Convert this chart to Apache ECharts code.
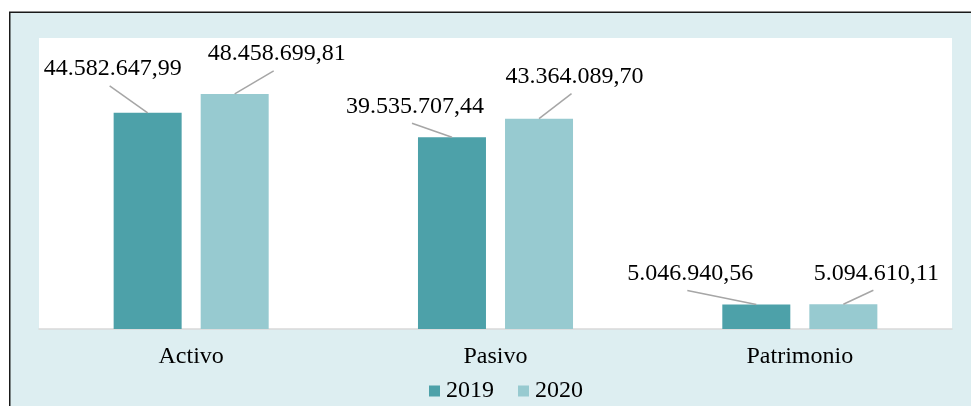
<!DOCTYPE html>
<html>
<head>
<meta charset="utf-8">
<script src="https://cdn.jsdelivr.net/npm/echarts@6/dist/echarts.min.js"></script>
<style>
  html, body { margin: 0; padding: 0; background: #ffffff; }
  #chart { width: 971px; height: 406px; }
</style>
</head>
<body>
<div id="chart"></div>
<script>
// Balance sheet totals per year
const categories = ['Activo', 'Pasivo', 'Patrimonio'];
const years = ['2019', '2020'];
const values2019 = [44582647.99, 39535707.44, 5046940.56];
const values2020 = [48458699.81, 43364089.70, 5094610.11];

// Where each value label sits relative to the top centre of its bar [dx, dy]
const labelShift = [
  [[-35, -44], [-37, -31], [-66, -31]],
  [[42, -40], [35.5, -42], [33, -31]]
];

const serif = "'Times New Roman', 'Liberation Serif', serif";
const colors = ['#4DA1A9', '#97CAD0'];
const BAR_W = 68;
const BAR_GAP = 0.28;
// horizontal distance from category centre to each bar's centre
const barOffset = [-(BAR_W * (1 + BAR_GAP)) / 2, (BAR_W * (1 + BAR_GAP)) / 2];

// 44582647.99 -> "44.582.647,99"
function formatEs(v) {
  const parts = v.toFixed(2).split('.');
  return parts[0].replace(/\B(?=(\d{3})+(?!\d))/g, '.') + ',' + parts[1];
}

function barSeries(name, values, idx) {
  return {
    name: name,
    type: 'bar',
    data: values,
    barWidth: BAR_W,
    barGap: (BAR_GAP * 100) + '%',
    itemStyle: { color: colors[idx] },
    label: {
      show: true,
      position: 'top',
      formatter: p => formatEs(p.value),
      color: '#000',
      fontSize: 24,
      fontFamily: serif
    },
    labelLayout: function (p) {
      const off = labelShift[idx][p.dataIndex];
      const cx = p.rect.x + p.rect.width / 2;
      return {
        x: cx + off[0],
        y: p.rect.y + off[1],
        align: 'center',
        verticalAlign: 'middle'
      };
    }
  };
}

// Leader line from the top of each bar to its value label
function leaderSeries(values, idx) {
  return {
    name: 'leader ' + years[idx],
    type: 'custom',
    silent: true,
    z: 3,
    data: values.map((v, i) => [i, v]),
    renderItem: function (params, api) {
      const i = api.value(0);
      const pt = api.coord([i, api.value(1)]);
      const cx = pt[0] + barOffset[idx];
      const top = pt[1];
      const off = labelShift[idx][i];
      return {
        type: 'line',
        shape: { x1: cx, y1: top, x2: cx + off[0] - 3, y2: top + off[1] + 17 },
        style: { stroke: '#A6A6A6', lineWidth: 1.5 }
      };
    }
  };
}

const chart = echarts.init(document.getElementById('chart'), null, { renderer: 'canvas' });
chart.setOption({
  animation: false,
  backgroundColor: '#ffffff',
  color: colors,
  graphic: [{
    type: 'rect',
    z: -100,
    shape: { x: 9.75, y: 12.25, width: 1000, height: 450 },
    style: { fill: '#DDEEF1', stroke: '#1a1a1a', lineWidth: 1.5 }
  }],
  grid: {
    left: 39, right: 19, top: 38, bottom: 77,
    show: true, backgroundColor: '#ffffff', borderWidth: 0
  },
  legend: {
    data: years,
    left: 429,
    top: 379,
    padding: 0,
    icon: 'rect',
    itemWidth: 11,
    itemHeight: 11,
    itemGap: 24,
    textStyle: { color: '#000', fontSize: 24, fontFamily: serif, padding: [0, 0, 0, 1] }
  },
  xAxis: {
    type: 'category',
    data: categories,
    axisTick: { show: false },
    axisLine: { lineStyle: { color: '#D9D9D9', width: 1.5 } },
    axisLabel: { color: '#000', fontSize: 24, fontFamily: serif, margin: 16 }
  },
  yAxis: {
    type: 'value',
    min: 0,
    max: 60000000,
    show: false,
    splitLine: { show: false }
  },
  series: [
    barSeries(years[0], values2019, 0),
    barSeries(years[1], values2020, 1),
    leaderSeries(values2019, 0),
    leaderSeries(values2020, 1)
  ]
});
</script>
</body>
</html>
